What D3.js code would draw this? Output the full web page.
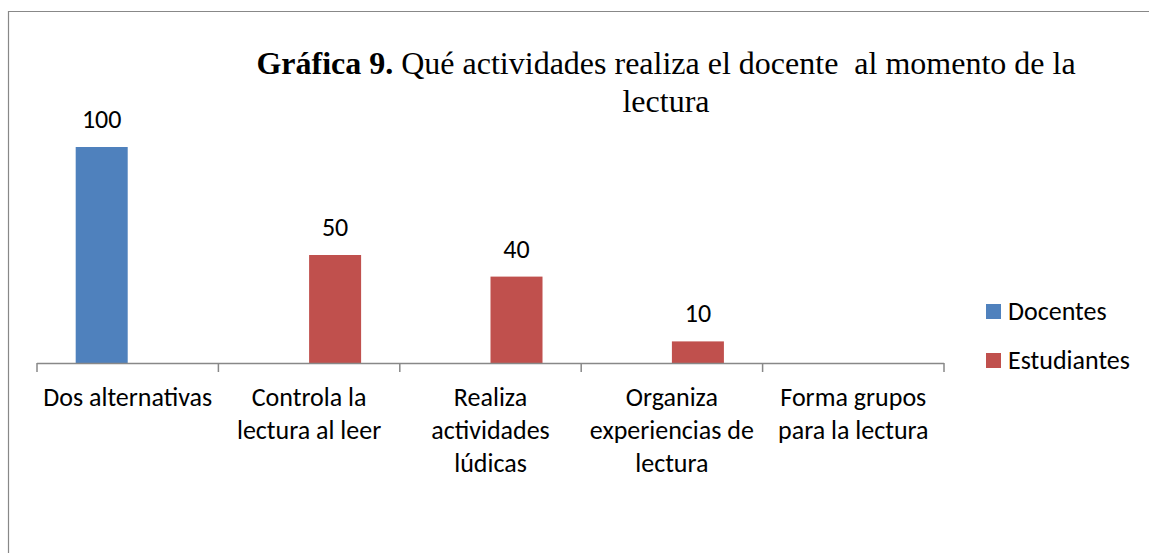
<!DOCTYPE html>
<html>
<head>
<meta charset="utf-8">
<script src="https://cdn.jsdelivr.net/npm/d3@7"></script>
<style>
  html, body { margin: 0; padding: 0; background: #fff; }
  svg { display: block; }
</style>
</head>
<body>
<svg id="chart" width="1149" height="553"></svg>
<script>
const categories = [
  "Dos alternativas",
  "Controla la lectura al leer",
  "Realiza actividades lúdicas",
  "Organiza experiencias de lectura",
  "Forma grupos para la lectura"
];
const tickLabels = [
  ["Dos alternativas"],
  ["Controla la", "lectura al leer"],
  ["Realiza", "actividades", "lúdicas"],
  ["Organiza", "experiencias de", "lectura"],
  ["Forma grupos", "para la lectura"]
];
const seriesNames = ["Docentes", "Estudiantes"];
const docentes = [100, null, null, null, null];
const estudiantes = [null, 50, 40, 10, null];
const seriesColors = ["#4F81BD", "#C0504D"];

const svg = d3.select("#chart");
const labelFont = "Carlito, Lato, 'Open Sans', sans-serif";
const labelSize = 26;

// outer border (chart area frame)
svg.append("path")
  .attr("d", "M8.5,553 L8.5,11.5 L1149,11.5")
  .attr("fill", "none")
  .attr("stroke", "#888")
  .attr("stroke-width", 1.2);

const x0 = d3.scaleBand().domain(categories).range([37, 944]).paddingInner(0).paddingOuter(0);
const x1 = d3.scaleBand().domain(seriesNames).range([0, x0.bandwidth()]).paddingInner(0).paddingOuter(0.744);
const y = d3.scaleLinear().domain([0, 100]).range([363, 147]);

const seriesData = [docentes, estudiantes];

seriesNames.forEach((s, si) => {
  const vals = seriesData[si];
  const g = svg.append("g");
  categories.forEach((c, ci) => {
    const v = vals[ci];
    if (v == null) return;
    g.append("rect")
      .attr("x", x0(c) + x1(s))
      .attr("y", y(v))
      .attr("width", x1.bandwidth())
      .attr("height", y(0) - y(v))
      .attr("fill", seriesColors[si]);
    g.append("text")
      .attr("x", x0(c) + x1(s) + x1.bandwidth() / 2)
      .attr("y", y(v) - 19)
      .attr("text-anchor", "middle")
      .attr("font-family", labelFont)
      .attr("font-size", labelSize)
      .attr("fill", "#000")
      .text(v);
  });
});

// x axis
const axis = d3.axisBottom(x0).tickSize(0).tickFormat("");
const ag = svg.append("g").attr("transform", `translate(0,${y(0)})`).call(axis);
ag.select(".domain").attr("stroke", "#888").attr("stroke-width", 1.5)
  .attr("d", `M${x0.range()[0]},0.5H${x0.range()[1]}`);
const bounds = categories.map(c => x0(c)).concat([x0.range()[1]]);
ag.selectAll(".bt").data(bounds).enter().append("line")
  .attr("x1", d => d).attr("x2", d => d)
  .attr("y1", 0).attr("y2", 9)
  .attr("stroke", "#888").attr("stroke-width", 1.5);

// category labels
categories.forEach((c, ci) => {
  const t = svg.append("text")
    .attr("text-anchor", "middle")
    .attr("font-family", labelFont)
    .attr("font-size", labelSize)
    .attr("fill", "#000");
  tickLabels[ci].forEach((line, li) => {
    t.append("tspan")
      .attr("x", x0(c) + x0.bandwidth() / 2)
      .attr("y", 406 + li * 33)
      .text(line);
  });
});

// legend
seriesNames.forEach((s, si) => {
  svg.append("rect")
    .attr("x", 986).attr("y", 304 + si * 49)
    .attr("width", 15).attr("height", 15)
    .attr("fill", seriesColors[si]);
  svg.append("text")
    .attr("x", 1008).attr("y", 320 + si * 49)
    .attr("font-family", labelFont)
    .attr("font-size", labelSize)
    .attr("fill", "#000")
    .text(s);
});

// title
const title = svg.append("text")
  .attr("text-anchor", "middle")
  .attr("font-family", "'Liberation Serif', 'Times New Roman', serif")
  .attr("font-size", 32)
  .attr("fill", "#000");
const l1 = title.append("tspan").attr("x", 666).attr("y", 74);
l1.append("tspan").attr("font-weight", "bold").text("Gráfica 9.");
l1.append("tspan").text(" Qué actividades realiza el docente\u00A0 al momento de la");
title.append("tspan").attr("x", 666).attr("y", 112).text("lectura");
</script>
</body>
</html>
